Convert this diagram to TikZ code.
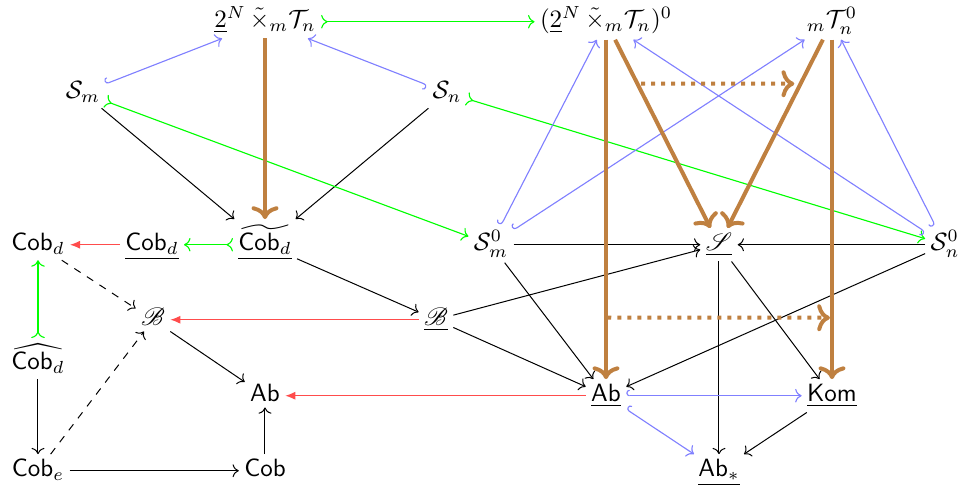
\documentclass[tikz,border=0pt]{standalone}
\usepackage{amsmath,amssymb}
\usepackage{mathrsfs}
\usetikzlibrary{arrows.meta,cd,intersections}
\begin{document}
\begin{tikzpicture}[x=0.4pt,y=-0.4pt,
  every node/.style={shape=asymmetrical rectangle,anchor=base,inner xsep=2pt,inner ysep=2pt},
  ar/.style={draw=black,line width=0.4pt,-{Computer Modern Rightarrow}},
  dar/.style={ar,dashed},
  hk/.style={draw=blue!50,line width=0.45pt,{Hooks[right]}-{Computer Modern Rightarrow}},
  tl/.style={draw=green,line width=0.45pt,{Computer Modern Rightarrow[reversed]}-{Computer Modern Rightarrow}},
  rd/.style={draw=red!70,line width=0.45pt,-{Latex[length=4pt,width=3.2pt]}},
  br/.style={draw=brown,line width=1.6pt,-{Computer Modern Rightarrow}},
  bd/.style={draw=brown,line width=1.6pt,dash pattern=on 1.6pt off 2.4pt,-{Computer Modern Rightarrow}}
]
\useasboundingbox (0,0) rectangle (963,492);
% nodes
\node (A) at (265,28) {$\underline{2}^N\,\tilde{\times}_m\mathcal{T}_n$};
\node (A0) at (606,28) {$(\underline{2}^N\,\tilde{\times}_m\mathcal{T}_n)^0$};
\node (T0) at (832,28) {${}_m\mathcal{T}_n^0$};
\node (Sm) at (83,99) {$\mathcal{S}_m$};
\node (Sn) at (447,99) {$\mathcal{S}_n$};
\node (Cobd) at (38,251) {$\mathsf{Cob}_d$};
\node (Cobu) at (152,251) {$\underline{\mathsf{Cob}_d}$};
\node (Cobt) at (265,251) {$\underline{\widetilde{\mathsf{Cob}_d}}$};
\node (Sm0) at (491,251) {$\mathcal{S}_m^0$};
\node (SS) at (719,251) {$\underline{\mathscr{S}}$};
\node (Sn0) at (945,251) {$\mathcal{S}_n^0$};
\node (B) at (153,326) {$\mathscr{B}$};
\node (Bu) at (436,326) {$\underline{\mathscr{B}}$};
\node (Cobh) at (38,370) {$\widehat{\mathsf{Cob}_d}$};
\node (Ab) at (265,402) {$\mathsf{Ab}$};
\node (Abu) at (606,402) {$\underline{\mathsf{Ab}}$};
\node (Kom) at (832,402) {$\underline{\mathsf{Kom}}$};
\node (Cobe) at (38,477) {$\mathsf{Cob}_e$};
\node (Cob) at (265,477) {$\mathsf{Cob}$};
\node (Abs) at (719,477) {$\underline{\mathsf{Ab}_*}$};
% connectors
\draw[tl] (A) -- (A0);
\draw[hk] (Sm) -- (A);
\draw[hk] (Sn) -- (A);
\draw[ar] (Sm) -- (Cobt);
\draw[ar] (Sn) -- (Cobt);
\draw[tl] (Sm) -- (Sm0);
\draw[tl] (Sn) -- (Sn0);
\draw[tl] (Cobt) -- (Cobu);
\draw[rd] (Cobu) -- (Cobd);
\draw[ar] (Cobt) -- (Bu);
\draw[dar] (Cobd) -- (B);
\draw[tl] (Cobh) -- (Cobd);
\draw[ar] (Cobh) -- (Cobe);
\draw[dar] (Cobe) -- (B);
\draw[ar] (Cobe) -- (Cob);
\draw[ar] (Cob) -- (Ab);
\draw[ar] (B) -- (Ab);
\draw[rd] (Bu) -- (B);
\draw[rd] (Abu) -- (Ab);
\draw[ar] (Bu) -- (SS);
\draw[ar] (Bu) -- (Abu);
\draw[ar] (Sm0) -- (SS);
\draw[ar] (Sn0) -- (SS);
\draw[ar] (Sm0) -- (Abu);
\draw[ar] (Sn0) -- (Abu);
\draw[ar] (SS) -- (Abs);
\draw[ar] (SS) -- (Kom);
\draw[ar] (Kom) -- (Abs);
\draw[hk] (Abu) -- (Kom);
\draw[hk] (Abu) -- (Abs);
\draw[hk] (Sm0) -- (A0);
\draw[hk] (Sm0) -- (T0);
\draw[hk] (Sn0) -- (A0);
\draw[hk] (Sn0) -- (T0);
\draw[br] (A) -- (Cobt);
\draw[br,name path=aab] (A0) -- (Abu);
\draw[br,name path=ass] (A0) -- (SS);
\draw[br,name path=tss] (T0) -- (SS);
\draw[br,name path=tkm] (T0) -- (Kom);
% 2-cells
\path[name path=h1] (Sm |- T0) ++(0,62) coordinate (h1a) -- (h1a -| Sn0);
\path[name intersections={of=ass and h1,by=d1}];
\path[name intersections={of=tss and h1,by=d2}];
\path[name path=h2] (Sm |- Bu) ++(0,-2) coordinate (h2a) -- (h2a -| Sn0);
\path[name intersections={of=aab and h2,by=d3}];
\path[name intersections={of=tkm and h2,by=d4}];
\draw[bd,shorten <=1.5pt,shorten >=2.5pt] (d1) -- (d2);
\draw[bd,shorten <=0.5pt,shorten >=0.8pt] (d3) -- (d4);
\end{tikzpicture}
\end{document}
